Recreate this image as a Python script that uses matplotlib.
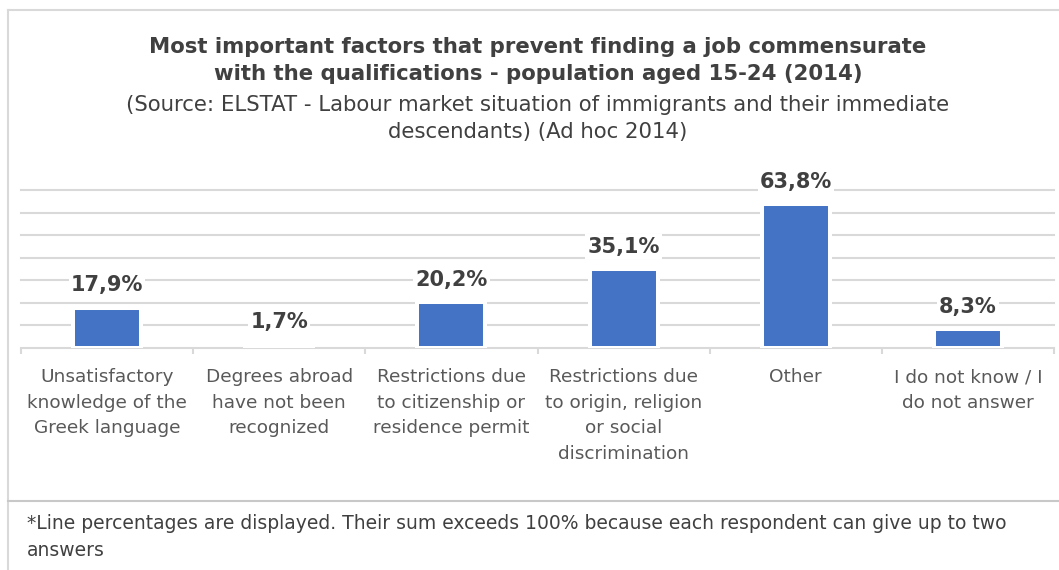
import matplotlib
matplotlib.use("Agg")
import matplotlib.pyplot as plt
from matplotlib.lines import Line2D
import numpy as np

categories = [
    "Unsatisfactory\nknowledge of the\nGreek language",
    "Degrees abroad\nhave not been\nrecognized",
    "Restrictions due\nto citizenship or\nresidence permit",
    "Restrictions due\nto origin, religion\nor social\ndiscrimination",
    "Other",
    "I do not know / I\ndo not answer",
]
values = [17.9, 1.7, 20.2, 35.1, 63.8, 8.3]
value_labels = ["17,9%", "1,7%", "20,2%", "35,1%", "63,8%", "8,3%"]

title = ("Most important factors that prevent finding a job commensurate\n"
         "with the qualifications - population aged 15-24 (2014)")
subtitle = ("(Source: ELSTAT - Labour market situation of immigrants and their immediate\n"
            "descendants) (Ad hoc 2014)")
footnote = ("*Line percentages are displayed. Their sum exceeds 100% because each respondent can give up to two\n"
            "answers")

W, H = 1059, 570
fig = plt.figure(figsize=(W / 100, H / 100), dpi=100)
plt.rcParams['font.family'] = ['DejaVu Sans']

BAR = "#4472C4"
GRID = "#D9D9D9"
TXT = "#404040"
LAB = "#595959"

def fx(x):
    return x / W

def fy(y):
    return 1 - y / H

frame_col = "#D9D9D9"
fig.add_artist(Line2D([fx(8), fx(8)], [fy(10), fy(570)], color=frame_col, lw=1.5))
fig.add_artist(Line2D([fx(8), fx(1059)], [fy(10), fy(10)], color=frame_col, lw=1.5))
fig.add_artist(Line2D([fx(8), fx(1059)], [fy(501), fy(501)], color="#C8C8C8", lw=1.5))

ax = fig.add_axes([fx(21), fy(348), fx(1054) - fx(21), fy(190) - fy(348)])
x = np.arange(len(categories))
ax.bar(x, values, width=0.395, color=BAR, edgecolor="white", linewidth=2.9, zorder=3)
ax.set_xlim(-0.5, len(categories) - 0.5)
ax.set_ylim(0, 70)
ax.set_yticks(np.arange(10, 71, 10))
ax.yaxis.grid(True, color=GRID, lw=1.5, zorder=0)
for gl in ax.get_ygridlines():
    gl.set_clip_on(False)
ax.tick_params(axis='y', length=0, labelleft=False)
for s in ["top", "right", "left"]:
    ax.spines[s].set_visible(False)
ax.spines["bottom"].set_color(GRID)
ax.spines["bottom"].set_linewidth(1.5)
ax.set_xticks(x)
ax.set_xticklabels(categories, fontsize=13.3, color=LAB, linespacing=1.54, va="top")
ax.set_xticks(np.arange(-0.5, len(categories)), minor=True)
ax.tick_params(axis='x', which='major', length=0, pad=14.5)
ax.tick_params(axis='x', which='minor', length=4.5, width=1.5, color=GRID)

for xi, v, lab in zip(x, values, value_labels):
    ax.annotate(lab, (xi, v), xytext=(0, 16), textcoords="offset points",
                ha="center", va="center", fontsize=15, fontweight="bold", color=TXT,
                bbox=dict(boxstyle="square,pad=0.1", fc="white", ec="none"), zorder=4)

fig.text(fx(538), fy(60.5), title, ha="center", va="center", fontsize=15.3, fontweight="bold",
         color=TXT, linespacing=1.48)
fig.text(fx(538), fy(118.5), subtitle, ha="center", va="center", fontsize=15.3, color=TXT,
         linespacing=1.48)
fig.text(fx(27), fy(537), footnote, ha="left", va="center", fontsize=13.5, color=TXT,
         linespacing=1.54)

fig.savefig("out.png", dpi=100, facecolor="white")
